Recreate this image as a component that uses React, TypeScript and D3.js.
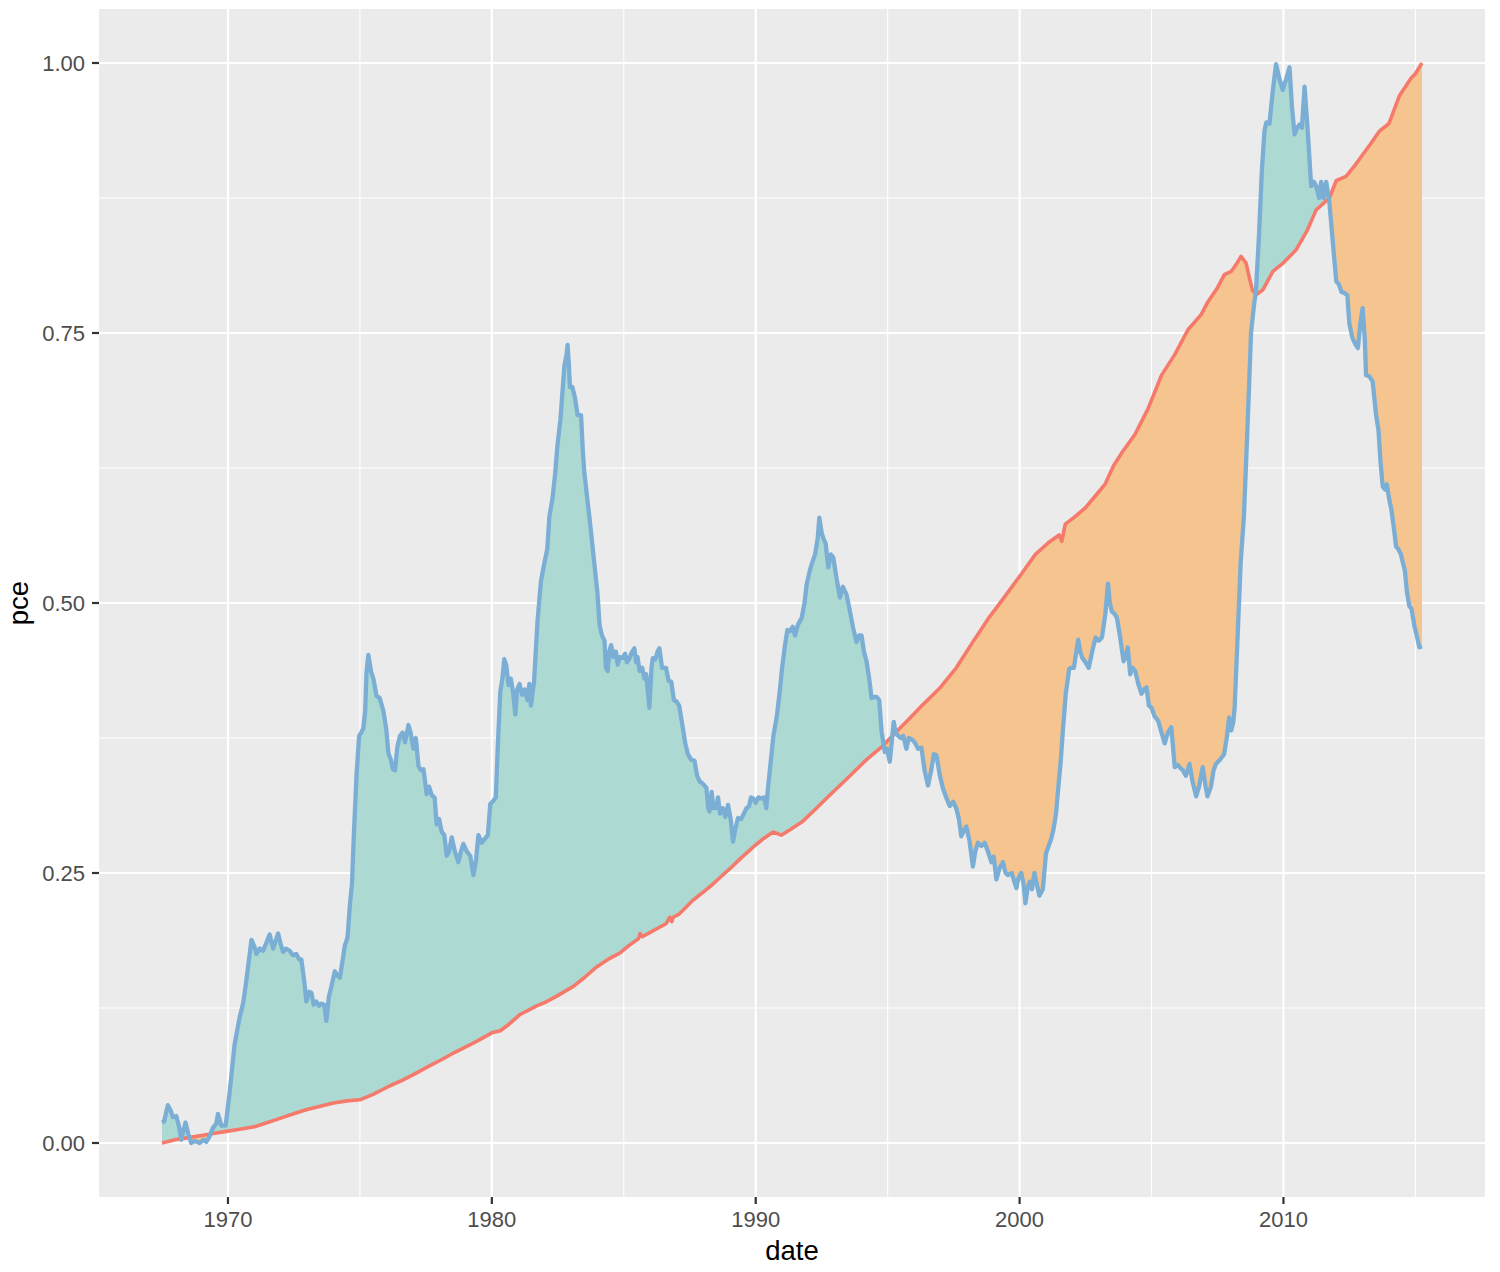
import React from "react";
import * as d3 from "d3";

// Tick positions (decimal years / normalised values)
const xMajorTicks = [1970, 1980, 1990, 2000, 2010];
const xMinorTicks = [1965, 1975, 1985, 1995, 2005, 2015];
const yMajorTicks = [0, 0.25, 0.5, 0.75, 1];
const yMinorTicks = [0.125, 0.375, 0.625, 0.875];
const yTickLabels = ["0.00", "0.25", "0.50", "0.75", "1.00"];

// Normalised unemployment (blue line), [decimal year, value]
const unemploy: [number, number][] = [
  [1967.5, 0.019], [1967.58, 0.02], [1967.72, 0.035], [1967.83, 0.03], [1967.91, 0.024],
  [1968.04, 0.025], [1968.15, 0.015], [1968.23, 0.003], [1968.39, 0.019], [1968.5, 0.008],
  [1968.61, 0.0], [1968.75, 0.002], [1968.92, 0.0], [1969.08, 0.003], [1969.18, 0.001],
  [1969.3, 0.006], [1969.43, 0.014], [1969.56, 0.018], [1969.62, 0.027], [1969.75, 0.016],
  [1969.91, 0.016], [1970.06, 0.046], [1970.25, 0.091], [1970.44, 0.116], [1970.58, 0.13],
  [1970.7, 0.151], [1970.89, 0.188], [1971.0, 0.182], [1971.08, 0.175], [1971.2, 0.18],
  [1971.33, 0.178], [1971.45, 0.185], [1971.58, 0.193], [1971.71, 0.18], [1971.9, 0.194],
  [1972.0, 0.184], [1972.09, 0.177], [1972.2, 0.18], [1972.34, 0.178], [1972.45, 0.174],
  [1972.59, 0.175], [1972.7, 0.17], [1972.78, 0.17], [1972.9, 0.148], [1972.97, 0.131],
  [1973.08, 0.14], [1973.16, 0.139], [1973.25, 0.128], [1973.35, 0.131], [1973.45, 0.127],
  [1973.54, 0.129], [1973.65, 0.128], [1973.73, 0.113], [1973.82, 0.135], [1973.92, 0.145],
  [1974.05, 0.159], [1974.15, 0.155], [1974.24, 0.153], [1974.35, 0.17], [1974.43, 0.183],
  [1974.53, 0.19], [1974.62, 0.22], [1974.7, 0.24], [1974.77, 0.285], [1974.87, 0.34],
  [1974.97, 0.377], [1975.05, 0.38], [1975.13, 0.384], [1975.2, 0.4], [1975.25, 0.436],
  [1975.32, 0.452], [1975.42, 0.437], [1975.51, 0.43], [1975.63, 0.414], [1975.75, 0.412],
  [1975.89, 0.4], [1976.0, 0.383], [1976.08, 0.361], [1976.17, 0.355], [1976.25, 0.346],
  [1976.33, 0.345], [1976.42, 0.367], [1976.52, 0.377], [1976.62, 0.38], [1976.71, 0.371],
  [1976.84, 0.387], [1976.92, 0.38], [1977.03, 0.365], [1977.12, 0.375], [1977.22, 0.349],
  [1977.32, 0.345], [1977.41, 0.346], [1977.53, 0.323], [1977.62, 0.33], [1977.72, 0.322],
  [1977.83, 0.32], [1977.91, 0.295], [1978.0, 0.3], [1978.1, 0.288], [1978.2, 0.285],
  [1978.29, 0.266], [1978.38, 0.27], [1978.48, 0.283], [1978.6, 0.27], [1978.73, 0.26],
  [1978.83, 0.27], [1978.92, 0.277], [1979.05, 0.27], [1979.18, 0.266], [1979.3, 0.248],
  [1979.4, 0.262], [1979.49, 0.285], [1979.62, 0.278], [1979.75, 0.282], [1979.85, 0.285],
  [1979.94, 0.314], [1980.06, 0.317], [1980.15, 0.32], [1980.23, 0.37], [1980.32, 0.418],
  [1980.4, 0.43], [1980.47, 0.448], [1980.55, 0.442], [1980.63, 0.424], [1980.72, 0.43],
  [1980.8, 0.418], [1980.89, 0.397], [1980.96, 0.42], [1981.05, 0.425], [1981.15, 0.415],
  [1981.25, 0.42], [1981.35, 0.41], [1981.42, 0.425], [1981.48, 0.405], [1981.6, 0.427],
  [1981.73, 0.483], [1981.86, 0.52], [1981.99, 0.537], [1982.1, 0.55], [1982.18, 0.58],
  [1982.3, 0.597], [1982.4, 0.62], [1982.49, 0.647], [1982.6, 0.67], [1982.75, 0.72],
  [1982.83, 0.73], [1982.87, 0.739], [1982.92, 0.72], [1982.96, 0.7], [1983.05, 0.7],
  [1983.15, 0.69], [1983.25, 0.674], [1983.38, 0.674], [1983.45, 0.64], [1983.5, 0.622],
  [1983.6, 0.6], [1983.7, 0.579], [1983.8, 0.556], [1983.89, 0.535], [1984.0, 0.51],
  [1984.08, 0.48], [1984.17, 0.47], [1984.27, 0.465], [1984.32, 0.44], [1984.39, 0.437],
  [1984.45, 0.455], [1984.52, 0.461], [1984.6, 0.45], [1984.7, 0.455], [1984.77, 0.443],
  [1984.85, 0.45], [1984.96, 0.449], [1985.05, 0.453], [1985.12, 0.445], [1985.2, 0.448],
  [1985.3, 0.454], [1985.4, 0.458], [1985.47, 0.445], [1985.52, 0.45], [1985.6, 0.437],
  [1985.7, 0.44], [1985.78, 0.43], [1985.85, 0.434], [1985.97, 0.403], [1986.05, 0.44],
  [1986.1, 0.449], [1986.2, 0.448], [1986.28, 0.455], [1986.35, 0.458], [1986.45, 0.44],
  [1986.54, 0.44], [1986.6, 0.44], [1986.7, 0.428], [1986.8, 0.427], [1986.9, 0.41],
  [1986.99, 0.409], [1987.1, 0.405], [1987.24, 0.384], [1987.33, 0.37], [1987.43, 0.36],
  [1987.55, 0.355], [1987.68, 0.354], [1987.78, 0.34], [1987.87, 0.335], [1987.98, 0.333],
  [1988.13, 0.329], [1988.2, 0.31], [1988.25, 0.307], [1988.33, 0.325], [1988.4, 0.31],
  [1988.5, 0.31], [1988.57, 0.32], [1988.65, 0.305], [1988.75, 0.31], [1988.85, 0.302],
  [1988.95, 0.313], [1989.05, 0.3], [1989.14, 0.279], [1989.22, 0.29], [1989.33, 0.301],
  [1989.45, 0.3], [1989.55, 0.305], [1989.65, 0.31], [1989.75, 0.312], [1989.82, 0.32],
  [1989.9, 0.319], [1990.0, 0.315], [1990.1, 0.32], [1990.22, 0.319], [1990.32, 0.32],
  [1990.4, 0.31], [1990.47, 0.33], [1990.54, 0.346], [1990.67, 0.377], [1990.8, 0.395],
  [1990.91, 0.418], [1991.0, 0.44], [1991.11, 0.461], [1991.2, 0.475], [1991.3, 0.474],
  [1991.4, 0.478], [1991.49, 0.47], [1991.6, 0.48], [1991.74, 0.486], [1991.85, 0.5],
  [1991.93, 0.517], [1992.05, 0.53], [1992.12, 0.536], [1992.25, 0.545], [1992.35, 0.56],
  [1992.41, 0.579], [1992.5, 0.565], [1992.56, 0.56], [1992.65, 0.555], [1992.75, 0.533],
  [1992.85, 0.545], [1992.94, 0.542], [1993.05, 0.525], [1993.19, 0.505], [1993.3, 0.515],
  [1993.44, 0.508], [1993.55, 0.495], [1993.69, 0.477], [1993.82, 0.464], [1993.92, 0.47],
  [1994.01, 0.47], [1994.1, 0.455], [1994.2, 0.446], [1994.3, 0.43], [1994.39, 0.412],
  [1994.5, 0.413], [1994.58, 0.413], [1994.68, 0.41], [1994.77, 0.381], [1994.89, 0.362],
  [1994.98, 0.365], [1995.08, 0.353], [1995.15, 0.37], [1995.23, 0.39], [1995.3, 0.38],
  [1995.4, 0.377], [1995.5, 0.375], [1995.59, 0.377], [1995.71, 0.365], [1995.8, 0.375],
  [1995.96, 0.373], [1996.05, 0.37], [1996.15, 0.365], [1996.28, 0.366], [1996.4, 0.345],
  [1996.53, 0.331], [1996.65, 0.345], [1996.75, 0.36], [1996.85, 0.359], [1996.98, 0.34],
  [1997.1, 0.328], [1997.22, 0.32], [1997.35, 0.312], [1997.48, 0.316], [1997.6, 0.31],
  [1997.7, 0.3], [1997.79, 0.284], [1997.9, 0.29], [1997.98, 0.293], [1998.1, 0.28],
  [1998.23, 0.256], [1998.32, 0.27], [1998.42, 0.278], [1998.55, 0.275], [1998.68, 0.278],
  [1998.8, 0.27], [1998.93, 0.26], [1999.02, 0.265], [1999.12, 0.244], [1999.25, 0.255],
  [1999.37, 0.26], [1999.47, 0.25], [1999.56, 0.248], [1999.7, 0.25], [1999.8, 0.242],
  [1999.88, 0.236], [1999.95, 0.245], [2000.06, 0.25], [2000.15, 0.24], [2000.22, 0.222],
  [2000.3, 0.235], [2000.38, 0.242], [2000.47, 0.235], [2000.56, 0.25], [2000.65, 0.24],
  [2000.75, 0.229], [2000.88, 0.235], [2001.0, 0.268], [2001.1, 0.275], [2001.19, 0.281],
  [2001.28, 0.29], [2001.38, 0.305], [2001.47, 0.33], [2001.56, 0.354], [2001.65, 0.385],
  [2001.75, 0.416], [2001.88, 0.439], [2001.95, 0.44], [2002.06, 0.44], [2002.15, 0.455],
  [2002.22, 0.466], [2002.3, 0.455], [2002.38, 0.449], [2002.5, 0.445], [2002.62, 0.44],
  [2002.75, 0.455], [2002.88, 0.468], [2003.0, 0.465], [2003.12, 0.468], [2003.25, 0.49],
  [2003.35, 0.518], [2003.42, 0.5], [2003.5, 0.492], [2003.6, 0.49], [2003.69, 0.486],
  [2003.8, 0.47], [2003.94, 0.446], [2004.02, 0.45], [2004.1, 0.459], [2004.19, 0.434],
  [2004.28, 0.44], [2004.38, 0.437], [2004.5, 0.425], [2004.62, 0.416], [2004.72, 0.42],
  [2004.81, 0.422], [2004.9, 0.405], [2005.0, 0.403], [2005.12, 0.395], [2005.25, 0.391],
  [2005.38, 0.38], [2005.5, 0.37], [2005.62, 0.38], [2005.75, 0.385], [2005.88, 0.348],
  [2006.0, 0.35], [2006.1, 0.347], [2006.19, 0.345], [2006.3, 0.34], [2006.44, 0.351],
  [2006.55, 0.335], [2006.69, 0.321], [2006.8, 0.33], [2006.94, 0.348], [2007.05, 0.33],
  [2007.12, 0.321], [2007.25, 0.33], [2007.35, 0.345], [2007.44, 0.351], [2007.6, 0.355],
  [2007.75, 0.36], [2007.85, 0.375], [2007.94, 0.394], [2008.02, 0.382], [2008.1, 0.39],
  [2008.15, 0.403], [2008.25, 0.462], [2008.38, 0.538], [2008.5, 0.58], [2008.58, 0.628],
  [2008.68, 0.69], [2008.77, 0.75], [2008.88, 0.775], [2008.96, 0.79], [2009.08, 0.844],
  [2009.18, 0.9], [2009.28, 0.937], [2009.35, 0.945], [2009.47, 0.944], [2009.6, 0.975],
  [2009.72, 0.999], [2009.85, 0.985], [2009.97, 0.975], [2010.1, 0.985], [2010.23, 0.996],
  [2010.32, 0.96], [2010.42, 0.934], [2010.52, 0.94], [2010.61, 0.943], [2010.7, 0.94],
  [2010.8, 0.978], [2010.92, 0.937], [2011.05, 0.886], [2011.15, 0.89], [2011.24, 0.886],
  [2011.35, 0.875], [2011.43, 0.89], [2011.52, 0.875], [2011.62, 0.89], [2011.74, 0.871],
  [2011.85, 0.84], [2011.92, 0.82], [2012.0, 0.798], [2012.1, 0.795], [2012.2, 0.788],
  [2012.31, 0.787], [2012.42, 0.785], [2012.5, 0.758], [2012.62, 0.745], [2012.72, 0.74],
  [2012.82, 0.736], [2012.92, 0.76], [2013.0, 0.773], [2013.08, 0.745], [2013.13, 0.711],
  [2013.25, 0.71], [2013.38, 0.705], [2013.51, 0.674], [2013.6, 0.66], [2013.68, 0.63],
  [2013.76, 0.608], [2013.85, 0.605], [2013.92, 0.61], [2014.0, 0.597], [2014.1, 0.585],
  [2014.18, 0.57], [2014.27, 0.552], [2014.35, 0.55], [2014.45, 0.545], [2014.52, 0.538],
  [2014.6, 0.53], [2014.68, 0.51], [2014.77, 0.497], [2014.85, 0.495], [2014.96, 0.479],
  [2015.05, 0.47], [2015.15, 0.459], [2015.25, 0.46],
];

// Normalised personal consumption expenditures (red line), [decimal year, value]
const pce: [number, number][] = [
  [1967.5, 0.0], [1968.0, 0.003], [1968.5, 0.005], [1969.0, 0.007], [1969.5, 0.009],
  [1970.0, 0.011], [1970.5, 0.013], [1971.0, 0.015], [1971.5, 0.019], [1972.0, 0.023],
  [1972.6, 0.028], [1973.0, 0.031], [1973.5, 0.034], [1974.0, 0.037], [1974.5, 0.039],
  [1975.0, 0.04], [1975.5, 0.045], [1976.14, 0.053], [1976.6, 0.058], [1977.15, 0.065],
  [1977.6, 0.071], [1978.16, 0.078], [1978.6, 0.084], [1979.18, 0.091], [1979.56, 0.096],
  [1980.0, 0.102], [1980.32, 0.104], [1980.6, 0.109], [1981.07, 0.119], [1981.7, 0.127],
  [1982.0, 0.13], [1982.46, 0.136], [1983.09, 0.145], [1983.5, 0.153], [1983.97, 0.163],
  [1984.4, 0.17], [1984.86, 0.176], [1985.2, 0.183], [1985.55, 0.189], [1985.62, 0.194],
  [1985.7, 0.191], [1986.0, 0.195], [1986.37, 0.2], [1986.6, 0.203], [1986.75, 0.209],
  [1986.82, 0.205], [1986.87, 0.209], [1987.1, 0.212], [1987.63, 0.225], [1988.0, 0.232],
  [1988.39, 0.24], [1988.7, 0.247], [1989.02, 0.254], [1989.45, 0.264], [1989.9, 0.274],
  [1990.3, 0.282], [1990.66, 0.288], [1990.97, 0.285], [1991.3, 0.29], [1991.79, 0.298],
  [1992.3, 0.31], [1992.8, 0.322], [1993.19, 0.331], [1993.7, 0.343], [1994.2, 0.355],
  [1994.83, 0.368], [1995.3, 0.38], [1995.71, 0.39], [1996.3, 0.405], [1996.97, 0.421],
  [1997.6, 0.44], [1998.23, 0.464], [1998.8, 0.485], [1999.41, 0.505], [2000.1, 0.528],
  [2000.6, 0.545], [2001.1, 0.556], [2001.5, 0.563], [2001.6, 0.557], [2001.73, 0.573],
  [2002.1, 0.58], [2002.49, 0.588], [2002.9, 0.6], [2003.24, 0.61], [2003.56, 0.627],
  [2003.9, 0.64], [2004.37, 0.656], [2004.87, 0.68], [2005.38, 0.711], [2005.88, 0.73],
  [2006.38, 0.753], [2006.88, 0.767], [2007.14, 0.779], [2007.5, 0.792], [2007.76, 0.804],
  [2008.02, 0.807], [2008.25, 0.815], [2008.39, 0.821], [2008.58, 0.815], [2008.72, 0.8],
  [2008.83, 0.789], [2009.0, 0.786], [2009.22, 0.79], [2009.6, 0.807], [2010.0, 0.815],
  [2010.48, 0.827], [2010.9, 0.845], [2011.24, 0.864], [2011.74, 0.875], [2012.0, 0.891],
  [2012.37, 0.895], [2012.7, 0.905], [2013.0, 0.915], [2013.3, 0.925], [2013.64, 0.937],
  [2014.0, 0.944], [2014.4, 0.97], [2014.84, 0.986], [2015.0, 0.99], [2015.25, 1.0],
];

const COLORS = {
  panel: "#EBEBEB",
  grid: "#FFFFFF",
  above: "#ACDAD2",
  below: "#F6C48F",
  blue: "#7BAED5",
  red: "#F57A6B",
  tickText: "#4D4D4D",
  tick: "#333333",
};

export default function App() {
  const W = 1500;
  const H = 1272;
  const panel = { left: 99, right: 1485, top: 9, bottom: 1197 };

  const allYears = [...unemploy.map((d) => d[0]), ...pce.map((d) => d[0])];
  const [x0, x1] = d3.extent(allYears) as [number, number];
  const xPad = (x1 - x0) * 0.05;
  const x = d3.scaleLinear().domain([x0 - xPad, x1 + xPad]).range([panel.left, panel.right]);
  const y = d3.scaleLinear().domain([-0.05, 1.05]).range([panel.bottom, panel.top]);

  const line = d3
    .line<[number, number]>()
    .x((d) => x(d[0]))
    .y((d) => y(d[1]));

  const ribbon = line([...unemploy, ...pce.slice().reverse()]) + "Z";
  const firstYear = pce[0][0];
  const lastYear = pce[pce.length - 1][0];
  const aboveClip = line([...pce, [lastYear, 3], [firstYear, 3]]) + "Z";
  const belowClip = line([...pce, [lastYear, -3], [firstYear, -3]]) + "Z";

  const font = "'Liberation Sans', Arial, Helvetica, sans-serif";

  return (
    <svg
      width={W}
      height={H}
      viewBox={`0 0 ${W} ${H}`}
      style={{ position: "absolute", left: 0, top: 0, background: "#FFFFFF" }}
      fontFamily={font}
    >
      <defs>
        <clipPath id="panelClip">
          <rect x={panel.left} y={panel.top} width={panel.right - panel.left} height={panel.bottom - panel.top} />
        </clipPath>
        <clipPath id="aboveClip">
          <path d={aboveClip} />
        </clipPath>
        <clipPath id="belowClip">
          <path d={belowClip} />
        </clipPath>
      </defs>

      <rect x={panel.left} y={panel.top} width={panel.right - panel.left} height={panel.bottom - panel.top} fill={COLORS.panel} />

      <g clipPath="url(#panelClip)">
        {yMinorTicks.map((t) => (
          <line key={"ym" + t} x1={panel.left} x2={panel.right} y1={y(t)} y2={y(t)} stroke={COLORS.grid} strokeWidth={1.1} />
        ))}
        {xMinorTicks.map((t) => (
          <line key={"xm" + t} x1={x(t)} x2={x(t)} y1={panel.top} y2={panel.bottom} stroke={COLORS.grid} strokeWidth={1.1} />
        ))}
        {yMajorTicks.map((t) => (
          <line key={"yM" + t} x1={panel.left} x2={panel.right} y1={y(t)} y2={y(t)} stroke={COLORS.grid} strokeWidth={2.2} />
        ))}
        {xMajorTicks.map((t) => (
          <line key={"xM" + t} x1={x(t)} x2={x(t)} y1={panel.top} y2={panel.bottom} stroke={COLORS.grid} strokeWidth={2.2} />
        ))}

        <path d={ribbon} fill={COLORS.above} clipPath="url(#aboveClip)" stroke="none" />
        <path d={ribbon} fill={COLORS.below} clipPath="url(#belowClip)" stroke="none" />

        <path d={line(pce) ?? ""} fill="none" stroke={COLORS.red} strokeWidth={3.6} strokeLinejoin="round" />
        <path d={line(unemploy) ?? ""} fill="none" stroke={COLORS.blue} strokeWidth={4.3} strokeLinejoin="round" />
      </g>

      {/* y axis */}
      {yMajorTicks.map((t, i) => (
        <g key={"yt" + t}>
          <line x1={panel.left - 7} x2={panel.left} y1={y(t)} y2={y(t)} stroke={COLORS.tick} strokeWidth={2.2} />
          <text x={panel.left - 14} y={y(t)} dy="0.36em" textAnchor="end" fontSize={22} fill={COLORS.tickText}>
            {yTickLabels[i]}
          </text>
        </g>
      ))}

      {/* x axis */}
      {xMajorTicks.map((t) => (
        <g key={"xt" + t}>
          <line x1={x(t)} x2={x(t)} y1={panel.bottom} y2={panel.bottom + 7} stroke={COLORS.tick} strokeWidth={2.2} />
          <text x={x(t)} y={panel.bottom + 30} textAnchor="middle" fontSize={22} fill={COLORS.tickText}>
            {String(t)}
          </text>
        </g>
      ))}

      <text x={(panel.left + panel.right) / 2} y={1260} textAnchor="middle" fontSize={27.5} fill="#000000">
        date
      </text>
      <text
        transform={`translate(28, ${(panel.top + panel.bottom) / 2}) rotate(-90)`}
        textAnchor="middle"
        fontSize={27.5}
        fill="#000000"
      >
        pce
      </text>
    </svg>
  );
}
